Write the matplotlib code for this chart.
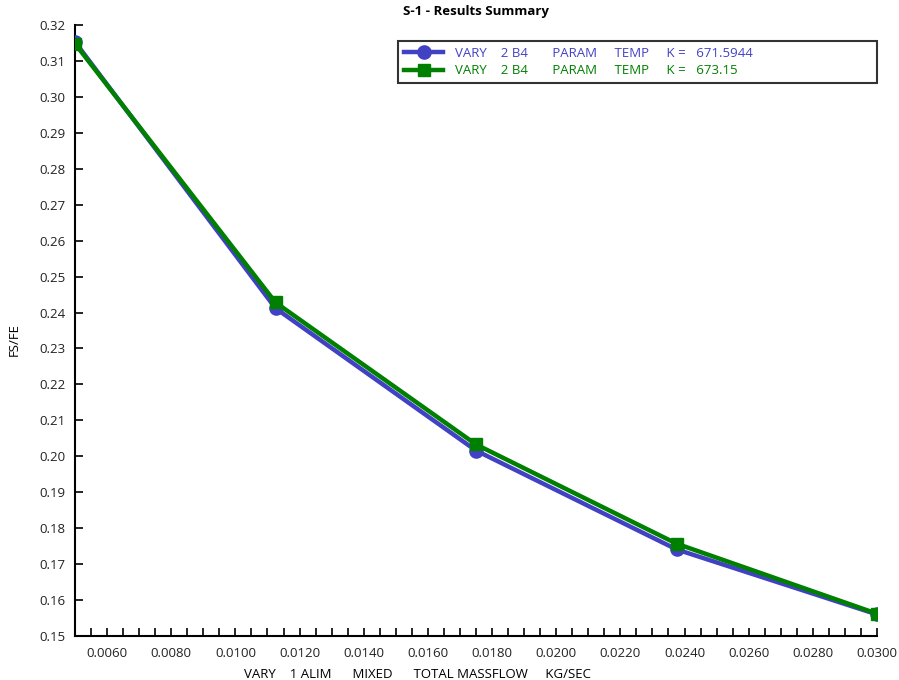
import matplotlib
matplotlib.use("Agg")
import matplotlib.pyplot as plt
from matplotlib.ticker import MultipleLocator, FormatStrFormatter

plt.rcParams['font.family'] = ['Open Sans', 'DejaVu Sans']

# Total massflow (kg/s) and FS/FE ratio for two parameter temperatures
massflow = [0.005, 0.01125, 0.0175, 0.02375, 0.030]
fs_fe_671 = [0.3153, 0.2412, 0.2016, 0.1741, 0.1560]
fs_fe_673 = [0.3148, 0.2428, 0.2033, 0.1757, 0.1562]
series_labels = [
    "VARY    2 B4       PARAM     TEMP     K =   671.5944",
    "VARY    2 B4       PARAM     TEMP     K =   673.15",
]
colors = ["#4141c4", "#008000"]

fig = plt.figure(figsize=(8.99, 6.80), dpi=100)
ax = fig.add_axes([75 / 899, 1 - 636 / 680, 802 / 899, 611 / 680])

ax.plot(massflow, fs_fe_671, color=colors[0], lw=3.2, marker='o', ms=9.5,
        label=series_labels[0], zorder=3)
ax.plot(massflow, fs_fe_673, color=colors[1], lw=3.2, marker='s', ms=9,
        label=series_labels[1], zorder=4)

ax.set_xlim(0.005, 0.030)
ax.set_ylim(0.15, 0.32)
ax.xaxis.set_major_locator(MultipleLocator(0.002))
ax.xaxis.set_minor_locator(MultipleLocator(0.0005))
ax.xaxis.set_major_formatter(FormatStrFormatter('%.4f'))
ax.yaxis.set_major_locator(MultipleLocator(0.01))
ax.yaxis.set_major_formatter(FormatStrFormatter('%.2f'))

for s in ['top', 'right']:
    ax.spines[s].set_visible(False)
for s in ['left', 'bottom']:
    ax.spines[s].set_linewidth(1.5)
    ax.spines[s].set_color('black')

ax.tick_params(axis='both', which='both', direction='in', width=1.2,
               length=6, labelsize=9.5, colors='black', labelcolor='#222222')
ax.tick_params(axis='x', which='major', pad=8)
ax.tick_params(axis='y', which='major', pad=7)

ax.set_title("S-1 - Results Summary", fontsize=9.5, fontweight='bold', pad=7)
ax.set_ylabel("FS/FE", fontsize=9.5)
ax.yaxis.set_label_coords(-0.068, (636 - 340) / 611)
ax.set_xlabel("VARY    1 ALIM      MIXED      TOTAL MASSFLOW     KG/SEC",
              fontsize=9.5)
ax.xaxis.set_label_coords((417 - 75) / 802, -0.052)

leg = ax.legend(loc='upper left', bbox_to_anchor=(0.4027, 0.974, 0.5973, 0.0),
                mode='expand', fontsize=9.5, frameon=True, fancybox=False,
                handlelength=3.0, handletextpad=0.9, borderpad=0.45,
                labelspacing=0.35, borderaxespad=0)
leg.get_frame().set_edgecolor('black')
leg.get_frame().set_linewidth(1.5)
for txt, c in zip(leg.get_texts(), colors):
    txt.set_color(c)

fig.savefig("out.png", dpi=100)
